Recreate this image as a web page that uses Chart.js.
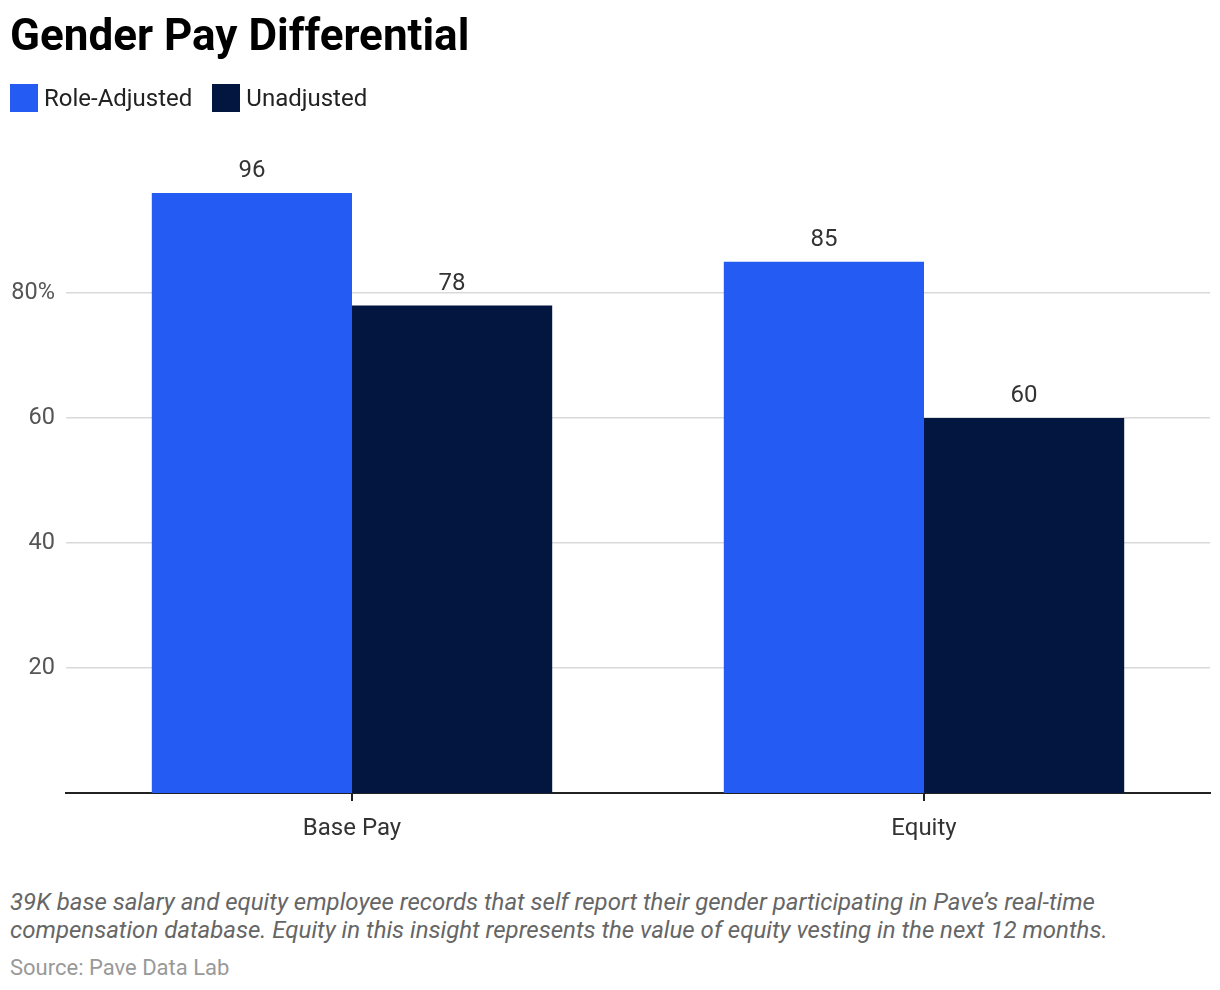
<!DOCTYPE html>
<html>
<head>
<meta charset="utf-8">
<script src="https://cdn.jsdelivr.net/npm/chart.js@4"></script>
<style>
  body{margin:0;background:#fff;font-family:Roboto,sans-serif;}
  .wrap{position:relative;width:1220px;height:990px;}
  .title{position:absolute;left:10px;top:12px;font-size:44px;font-weight:700;color:#000;line-height:46px;}
  .legend{position:absolute;left:10px;top:84px;display:flex;align-items:center;font-size:24px;color:#222;}
  .legend .sw{width:28px;height:28px;margin-right:6px;}
  .legend .item{display:flex;align-items:center;margin-right:20px;}
  canvas{position:absolute;left:0;top:0;}
  .note{position:absolute;left:10px;top:888px;font-size:24px;font-style:italic;color:#666;line-height:28px;}
  .src{position:absolute;left:10px;top:955px;font-size:22px;color:#999;}
</style>
</head>
<body>
<div class="wrap">
  <canvas id="payChart" width="1220" height="870"></canvas>
  <div class="title">Gender Pay Differential</div>
  <div class="legend">
    <div class="item"><div class="sw" style="background:#245cf3"></div>Role-Adjusted</div>
    <div class="item"><div class="sw" style="background:#03163f"></div>Unadjusted</div>
  </div>
  <div class="note">39K base salary and equity employee records that self report their gender participating in Pave’s real-time<br>compensation database. Equity in this insight represents the value of equity vesting in the next 12 months.</div>
  <div class="src">Source: Pave Data Lab</div>
</div>
<script>
/* ── DATA ─────────────────────────────────────────────── */
const categories   = ['Base Pay','Equity'];
const roleAdjusted = [96, 85];
const unadjusted   = [78, 60];
const yTicks       = [20, 40, 60, 80];

/* value labels above bars */
const barLabels = {
  id:'barLabels',
  afterDatasetsDraw(chart){
    const {ctx} = chart;
    ctx.save();
    ctx.font = '24px Roboto';
    ctx.fillStyle = '#333';
    ctx.textAlign = 'center';
    ctx.textBaseline = 'bottom';
    chart.data.datasets.forEach((ds,i)=>{
      chart.getDatasetMeta(i).data.forEach((bar,j)=>{
        ctx.fillText(ds.data[j], bar.x, bar.y - 10);
      });
    });
    ctx.restore();
  }
};

new Chart(document.getElementById('payChart'),{
  type:'bar',
  data:{
    labels:categories,
    datasets:[
      { label:'Role-Adjusted', data:roleAdjusted, backgroundColor:'#245cf3', borderWidth:0 },
      { label:'Unadjusted',    data:unadjusted,   backgroundColor:'#03163f', borderWidth:0 }
    ]
  },
  options:{
    responsive:false, animation:false,
    layout:{padding:{top:168,right:10,left:0,bottom:0}},
    categoryPercentage:0.7, barPercentage:1.0,
    plugins:{legend:{display:false}, tooltip:{enabled:false}},
    scales:{
      x:{
        grid:{display:true, drawOnChartArea:false, drawTicks:true, tickLength:8, color:'#222', lineWidth:2, offset:false},
        border:{display:true, color:'#222', width:2},
        ticks:{font:{family:'Roboto',size:24}, color:'#333', padding:14},
        afterFit(s){ s.height = 77; }
      },
      y:{
        min:0, max:100,
        afterBuildTicks(s){ s.ticks = yTicks.map(v=>({value:v})); },
        grid:{color:'#d9d9d9', lineWidth:1.5, drawTicks:false},
        border:{display:false},
        ticks:{font:{family:'Roboto',size:23.5}, color:'#555', padding:11,
               callback:v=> v===80 ? v+'%' : String(v)},
        afterFit(s){ s.width = 66; }
      }
    }
  },
  plugins:[barLabels]
});
</script>
</body>
</html>
